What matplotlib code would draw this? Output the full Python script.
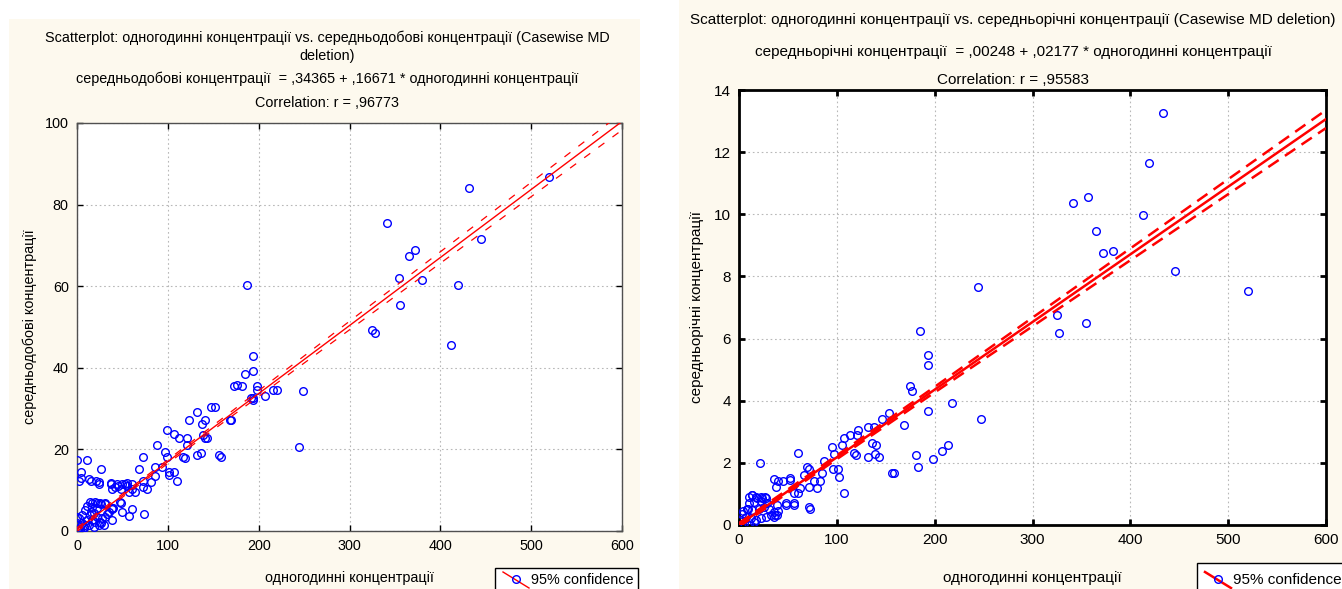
"""Two STATISTICA-style scatterplots: hourly vs daily / yearly concentrations."""
import numpy as np
import matplotlib
matplotlib.use("Agg")
import matplotlib.pyplot as plt
from matplotlib.patches import Rectangle
from matplotlib.lines import Line2D

plt.rcParams["font.family"] = ["Liberation Sans", "DejaVu Sans"]

W, H = 1342, 589

# --- left panel: одногодинні vs середньодобові ---
left_x = [520, 432, 341, 372, 365, 355, 380, 419, 445, 356, 325, 328, 412,
          187, 194, 194, 185, 176, 173, 182, 198, 198, 216, 220, 249, 207, 194, 194,
          244, 169, 147, 152, 132, 123, 141, 138, 99, 107, 112, 121, 141, 143, 121,
          88, 97, 99, 132, 136, 156, 158, 119, 73, 94, 86, 68, 101, 107, 101, 110,
          86, 73, 81, 77, 73, 64, 57, 61, 53, 48, 44, 37, 39, 24, 24, 15, 26, 11,
          0, 4, 4, 2, 48, 61, 39, 74, 57, 39, 26, 33, 31, 26, 22, 17, 11, 15,
          2, 5.5, 9, 11, 14.7, 16.5, 20, 22, 25.7, 27.5, 3.7, 7.3, 0, 18.4, 12.8,
          18.4, 24, 31, 29.4, 9.2, 5.5, 0, 35, 40, 50, 14.7, 20, 25.7, 31, 16.5, 22,
          47.7, 38, 55, 60, 13.6, 21, 37, 45, 55, 42, 50, 168, 139, 117, 192, 1, 3, 8]
left_y = [86.8, 84.0, 75.6, 68.8, 67.3, 61.9, 61.4, 60.4, 71.6, 55.5, 49.2, 48.6, 45.7,
          60.4, 42.8, 39.3, 38.4, 35.9, 35.5, 35.5, 35.5, 34.5, 34.5, 34.5, 34.4, 33.0, 32.0, 32.5,
          20.7, 27.1, 30.5, 30.5, 29.1, 27.1, 27.1, 26.2, 24.7, 23.7, 22.7, 22.7, 22.7, 22.7, 21.2,
          21.2, 19.4, 18.2, 18.7, 19.2, 18.7, 18.2, 17.8, 18.2, 15.7, 15.7, 15.3, 14.4, 14.4, 13.7, 12.3,
          13.4, 12.3, 11.9, 10.4, 10.9, 9.5, 9.5, 10.4, 11.4, 10.4, 11.4, 11.4, 10.4, 11.4, 12.0, 12.3, 15.3, 17.3,
          17.3, 14.4, 13.0, 12.3, 6.9, 5.5, 5.5, 4.1, 3.6, 2.6, 1.9, 4.1, 6.5, 6.5, 6.9, 6.9, 6.1, 4.7,
          3.1, 1.9, 1.5, 2.7, 3.9, 2.7, 2.3, 3.5, 2.3, 3.1, 1.1, 0.7, 1.9, 4.3, 1.5,
          1.1, 1.5, 3.5, 1.5, 5.1, 3.9, 3.5, 4.7, 5.6, 4.7, 7.2, 7.2, 6.8, 6.8, 6.0, 5.6,
          7.2, 5.6, 11.0, 11.5, 12.7, 12.2, 11.8, 11.0, 11.8, 10.9, 11.6, 27.2, 23.5, 18.2, 32.5, 0.4, 0.2, 0.9]
left_intercept, left_slope = 0.34365, 0.16671

# --- right panel: одногодинні vs середньорічні ---
right_x = [433, 419, 357, 341, 413, 365, 372, 382, 446, 520, 244, 325, 327, 355,
           185.5, 193, 193, 175, 177, 218, 193, 247, 169, 153, 146.5, 132, 138, 122, 121,
           113, 107, 105, 136, 140, 95, 97, 87, 69, 72, 60, 21.5, 118, 120, 132, 139, 143,
           181, 183, 198, 207.5, 214, 156, 158, 95.6, 101, 102, 107, 85, 83, 80, 77, 66,
           72, 62, 60.5, 56, 56, 48, 72, 52, 52, 45, 39.5, 36, 38, 39.5, 37,
           10.2, 13.6, 18.7, 23.9, 27.3, 10.2, 15.3, 22.2, 29, 8.5, 13.6, 20.5, 25.6, 30.7,
           35.8, 39.2, 3.4, 6.8, 11.9, 17, 22.2, 27.3, 32.4, 1.7, 5.1, 10.2, 15.3, 1.7, 35.8,
           39.2, 47.8, 56, 73, 13, 17.5, 22, 27, 4.4, 9]
right_y = [13.26, 11.64, 10.56, 10.36, 9.98, 9.46, 8.74, 8.81, 8.17, 7.53, 7.67, 6.75, 6.18, 6.51,
           6.24, 5.48, 5.15, 4.46, 4.30, 3.92, 3.68, 3.42, 3.23, 3.62, 3.42, 3.14, 3.14, 3.05, 2.90,
           2.90, 2.79, 2.58, 2.64, 2.58, 2.52, 2.27, 2.06, 1.87, 1.79, 2.32, 2.00, 2.33, 2.25, 2.19, 2.27, 2.19,
           2.26, 1.86, 2.13, 2.38, 2.58, 1.68, 1.68, 1.81, 1.81, 1.55, 1.03, 1.67, 1.43, 1.19, 1.43, 1.61,
           1.22, 1.19, 1.03, 1.03, 0.70, 0.70, 0.58, 1.45, 1.51, 1.43, 1.43, 1.49, 1.22, 0.46, 0.31,
           0.91, 0.96, 0.88, 0.86, 0.86, 0.70, 0.75, 0.77, 0.70, 0.53, 0.48, 0.53, 0.59, 0.53,
           0.43, 0.32, 0.37, 0.27, 0.21, 0.16, 0.21, 0.27, 0.32, 0.16, 0.05, 0.0, 0.11, 0.0, 0.27,
           0.64, 0.64, 0.64, 0.53, 0.97, 0.90, 0.90, 0.90, 0.46, 0.52]
right_intercept, right_slope = 0.00248, 0.02177

# 95% confidence band half-widths
band_x = [0, 50, 100, 150, 200, 300, 400, 500, 600]
left_band = [0.45, 0.4, 0.45, 0.55, 0.7, 1.05, 1.4, 1.75, 2.1]
right_band = [0.06, 0.055, 0.06, 0.075, 0.09, 0.14, 0.19, 0.24, 0.29]

panels = [
    dict(x=left_x, y=left_y, a=left_intercept, b=left_slope, band=left_band,
         ymax=100, yticks=[0, 20, 40, 60, 80, 100],
         lines=["Scatterplot: одногодинні концентрації vs. середньодобові концентрації (Casewise MD",
                "deletion)",
                "середньодобові концентрації  = ,34365 + ,16671 * одногодинні концентрації",
                "Correlation: r = ,96773"],
         line_y=[38, 56, 79, 103], ylabel="середньодобові концентрації",
         box=(9, 19, 640, 589), ax=(77, 123, 622, 531), tcx=327, fs=10.4,
         lw=1.0, blw=0.9, dash=(6, 8), spine_lw=1.0, spine_c="#505050",
         leg=(495, 568, 638, 592), ylx=30),
    dict(x=right_x, y=right_y, a=right_intercept, b=right_slope, band=right_band,
         ymax=14, yticks=[0, 2, 4, 6, 8, 10, 12, 14],
         lines=["Scatterplot: одногодинні концентрації vs. середньорічні концентрації (Casewise MD deletion)",
                "середньорічні концентрації  = ,00248 + ,02177 * одногодинні концентрації",
                "Correlation: r = ,95583"],
         line_y=[20, 52, 80], ylabel="середньорічні концентрації",
         box=(679, 0, 1342, 589), ax=(739, 90, 1326, 525), tcx=1013, fs=11,
         lw=1.8, blw=1.8, dash=(5, 3), spine_lw=2.0, spine_c="black",
         leg=(1197, 563, 1345, 592), ylx=697),
]


def fx(px):
    return px / W


def fy(py):
    return 1 - py / H


fig = plt.figure(figsize=(W / 100, H / 100), dpi=100)
fig.patch.set_facecolor("white")

for p in panels:
    fs = p["fs"]
    x0, y0, x1, y1 = p["box"]
    fig.add_artist(Rectangle((fx(x0), fy(y1)), fx(x1 - x0), (y1 - y0) / H,
                             transform=fig.transFigure, facecolor="#FDF9EE",
                             edgecolor="none", zorder=0))
    l, t, r, b = p["ax"]
    ax = fig.add_axes([fx(l), fy(b), fx(r - l), (b - t) / H])
    ax.set_facecolor("white")
    ax.set_xlim(0, 600)
    ax.set_ylim(0, p["ymax"])
    ax.set_xticks([0, 100, 200, 300, 400, 500, 600])
    ax.set_yticks(p["yticks"])
    ax.tick_params(direction="in", length=4, width=p["spine_lw"], labelsize=fs,
                   top=True, right=True, pad=6, colors="black")
    ax.grid(True, color="#B8B8B8", ls=(0, (1.5, 2.5)), lw=0.8)
    ax.set_axisbelow(True)
    for s in ax.spines.values():
        s.set_linewidth(p["spine_lw"])
        s.set_color(p["spine_c"])

    ax.plot(p["x"], p["y"], ls="none", marker="o", ms=5.5, mfc="none",
            mec="#0000FF", mew=1.0, zorder=3)
    xs = np.array(band_x, float)
    fit = p["a"] + p["b"] * xs
    hw = np.array(p["band"])
    ax.plot(xs, fit, color="#FF0000", lw=p["lw"], zorder=4)
    for sgn in (1, -1):
        ax.plot(xs, fit + sgn * hw, color="#FF0000", lw=p["blw"],
                dashes=p["dash"], zorder=4)

    for txt, yy in zip(p["lines"], p["line_y"]):
        fig.text(fx(p["tcx"]), fy(yy), txt, ha="center", va="center", fontsize=fs)
    fig.text(fx(p["ylx"]), fy((t + b) / 2), p["ylabel"], rotation=90, ha="center",
             va="center", fontsize=fs)
    fig.text(fx((l + r) / 2), fy(578), "одногодинні концентрації", ha="center",
             va="center", fontsize=fs)

    # legend box
    lx0, ly0, lx1, ly1 = p["leg"]
    cy = 580
    fig.add_artist(Rectangle((fx(lx0), fy(ly1)), fx(lx1 - lx0), (ly1 - ly0) / H,
                             transform=fig.transFigure, facecolor="white",
                             edgecolor="black", lw=1.0, zorder=5))
    fig.add_artist(Line2D([fx(lx0 + 8), fx(lx0 + 34)], [fy(cy - 8), fy(cy + 8)],
                          transform=fig.transFigure, color="#FF0000", lw=p["lw"], zorder=6))
    fig.add_artist(Line2D([fx(lx0 + 21)], [fy(cy - 1)], transform=fig.transFigure,
                          marker="o", ms=5.5, mfc="none", mec="#0000FF", mew=1.0, zorder=7))
    fig.text(fx(lx0 + 36), fy(cy), "95% confidence", ha="left", va="center",
             fontsize=fs, zorder=8)

fig.savefig("out.png", dpi=100)
